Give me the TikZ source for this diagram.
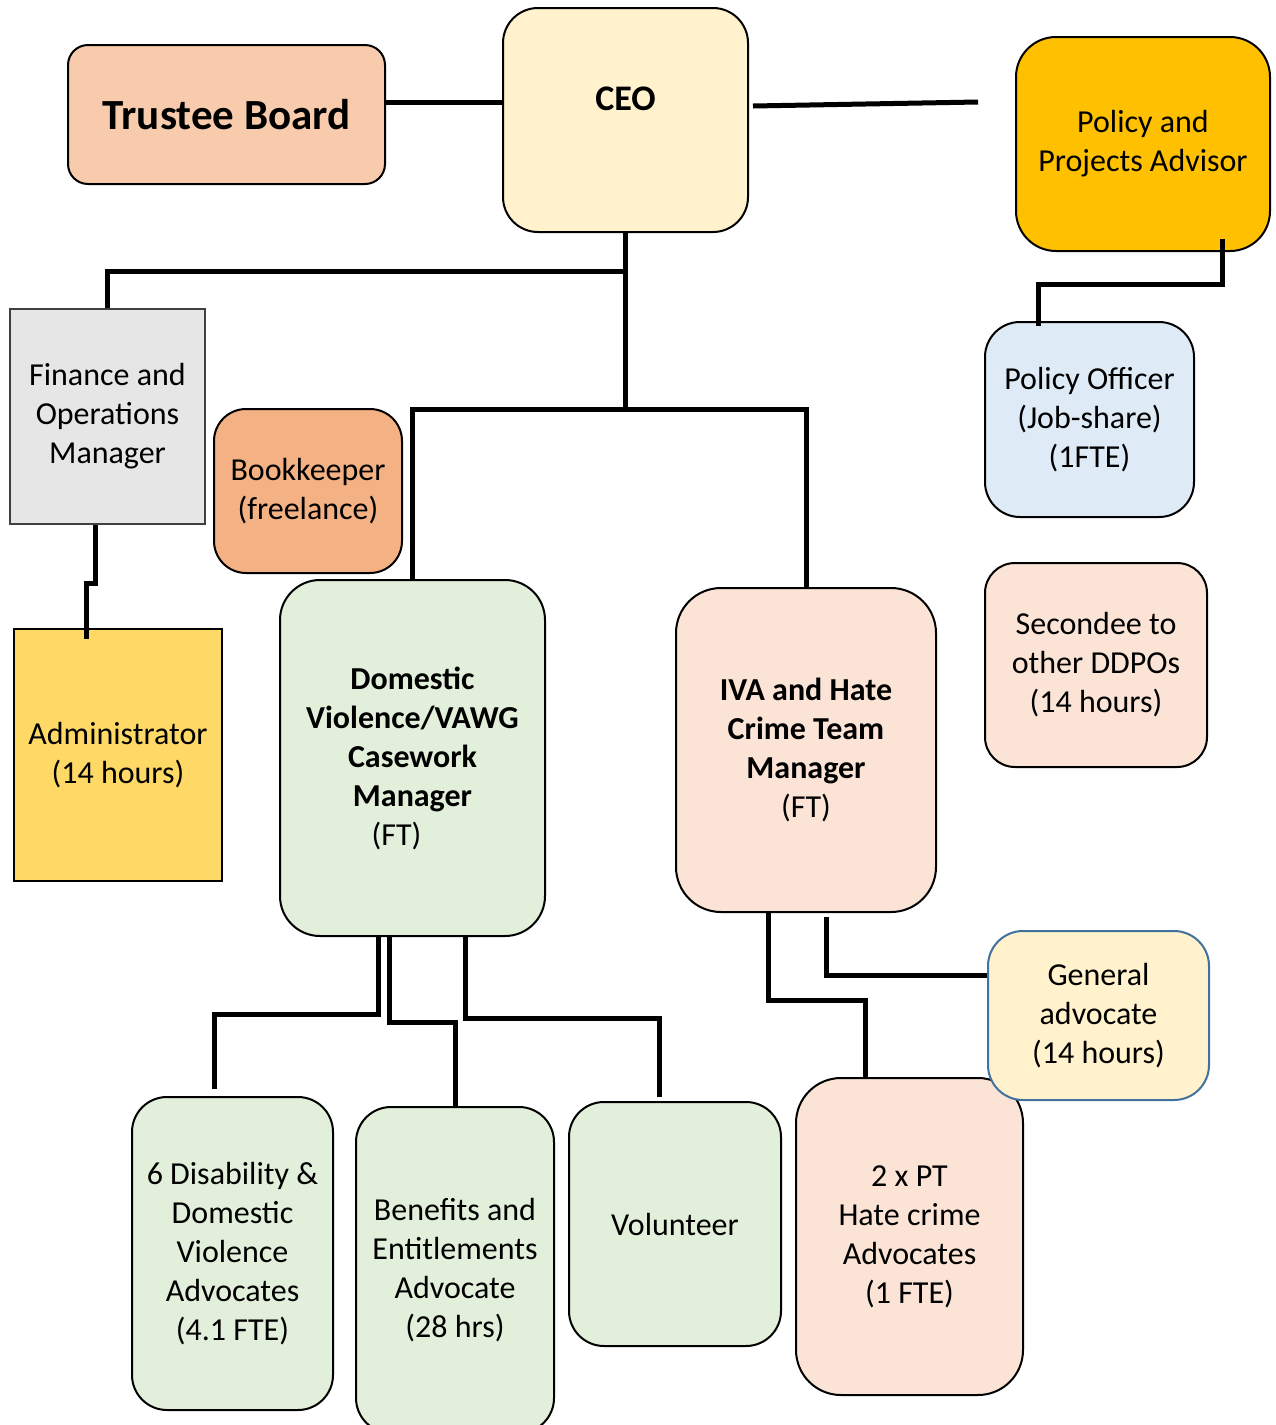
\documentclass[tikz,border=0pt]{standalone}
\usepackage{fontspec}
\setmainfont{Carlito}
\definecolor{trc}{HTML}{F8CBAD}
\definecolor{ceoc}{HTML}{FFF2CC}
\definecolor{ppac}{HTML}{FFC000}
\definecolor{finc}{HTML}{E7E6E6}
\definecolor{bookc}{HTML}{F4B183}
\definecolor{admc}{HTML}{FFD966}
\definecolor{grnc}{HTML}{E2EFDA}
\definecolor{pnkc}{HTML}{FBE3D6}
\definecolor{bluc}{HTML}{DEEBF7}
\definecolor{genb}{HTML}{41719C}
\begin{document}
\begin{tikzpicture}[x=1pt,y=-1pt,
  bx/.style={draw=black, line width=2pt, inner sep=0pt, align=center,
    font=\fontsize{32}{39}\selectfont},
  conn/.style={line width=5pt, line cap=butt, line join=miter}]
\useasboundingbox (0,0) rectangle (1275,1425);
% boxes
\node[bx, fill=trc, rounded corners=20pt, minimum width=317pt, minimum height=139pt,
  font=\fontsize{43}{50}\selectfont\bfseries] (tb) at (226.5,114.5) {\raisebox{-3pt}{Trustee Board}};
\node[bx, fill=ceoc, rounded corners=35pt, minimum width=245pt, minimum height=224pt] (ceo) at (625.5,120) {};
\node[font=\fontsize{36}{39}\selectfont\bfseries, inner sep=0pt] (ceotext) at (625.5,99) {CEO};
\node[bx, fill=ppac, rounded corners=40pt, minimum width=254pt, minimum height=214pt] (ppa) at (1143,144) {Policy and\\Projects Advisor};
\node[bx, fill=finc, draw=black!75, minimum width=195pt, minimum height=215pt] (fin) at (107.5,416.5) {Finance and\\Operations\\Manager};
\node[bx, fill=bookc, rounded corners=32pt, minimum width=188pt, minimum height=164pt] (book) at (308,491) {Bookkeeper\\(freelance)};
\node[bx, fill=admc, minimum width=208pt, minimum height=252pt] (adm) at (118,755) {Administrator\\(14 hours)};
\node[bx, fill=bluc, rounded corners=35pt, minimum width=209pt, minimum height=195pt] (po) at (1089.5,419.5) {Policy Officer\\(Job-share)\\(1FTE)};
\node[bx, fill=pnkc, rounded corners=30pt, minimum width=222pt, minimum height=204pt] (sec) at (1096,665) {Secondee to\\other DDPOs\\(14 hours)};
\node[bx, fill=grnc, rounded corners=40pt, minimum width=265pt, minimum height=356pt] (dv) at (412.5,758)
  {\bfseries Domestic\\\bfseries Violence/VAWG\\\bfseries Casework\\\bfseries Manager\\(FT)\hspace*{32pt}};
\node[bx, fill=pnkc, rounded corners=45pt, minimum width=260pt, minimum height=324pt] (iva) at (806,750)
  {\bfseries IVA and Hate\\\bfseries Crime Team\\\bfseries Manager\\(FT)};
\node[bx, fill=grnc, rounded corners=35pt, minimum width=201pt, minimum height=313pt] (dis) at (232.5,1253.5)
  {6 Disability \&\\Domestic\\Violence\\Advocates\\(4.1 FTE)};
\node[bx, fill=grnc, rounded corners=35pt, minimum width=198pt, minimum height=326pt] (ben) at (455,1270)
  {Benefits and\\Entitlements\\Advocate\\(28 hrs)};
\node[bx, fill=grnc, rounded corners=35pt, minimum width=212pt, minimum height=244pt] (vol) at (675,1224) {Volunteer};
\node[bx, fill=pnkc, rounded corners=45pt, minimum width=227pt, minimum height=317pt] (pt) at (909.5,1236.5)
  {2 x PT\\Hate crime\\Advocates\\(1 FTE)};
\node[bx, fill=ceoc, draw=genb, rounded corners=35pt, minimum width=221pt, minimum height=169pt] (gen) at (1098.5,1015.5)
  {General\\advocate\\(14 hours)};
% connectors
\coordinate (pfree) at (978,102);
\draw[conn] ([yshift=12.5pt]tb.east) -- ([yshift=18pt]ceo.west);
\draw[conn] ([xshift=4pt,yshift=14pt]ceo.east) -- (pfree);
\draw[conn] (ceo.south) -- ++(0,38) -| (fin.north);
\draw[conn] (ceo.south) -- ++(0,176) -| (dv.north);
\draw[conn] ([yshift=-176pt]ceo.south) -| (iva.north);
\draw[conn] ([xshift=79pt,yshift=13pt]ppa.south) -- ++(0,45) -| ([xshift=-51.5pt,yshift=-5pt]po.north);
\draw[conn] ([xshift=-12.5pt]fin.south) -- ++(0,58) -| ([xshift=-32pt,yshift=-11pt]adm.north);
\draw[conn] ([xshift=-34.5pt]dv.south) -- ++(0,77) -| ([xshift=-18.5pt,yshift=7pt]dis.north);
\draw[conn] ([xshift=-23.5pt]dv.south) -- ++(0,85) -| (ben.north);
\draw[conn] ([xshift=52.5pt]dv.south) -- ++(0,81) -| ([xshift=-16pt,yshift=4pt]vol.north);
\draw[conn] ([xshift=-38pt]iva.south) -- ++(0,87) -| ([xshift=-44.5pt]pt.north);
\draw[conn] ([xshift=20pt,yshift=-4pt]iva.south) |- ([yshift=40.5pt]gen.west);
\end{tikzpicture}
\end{document}
